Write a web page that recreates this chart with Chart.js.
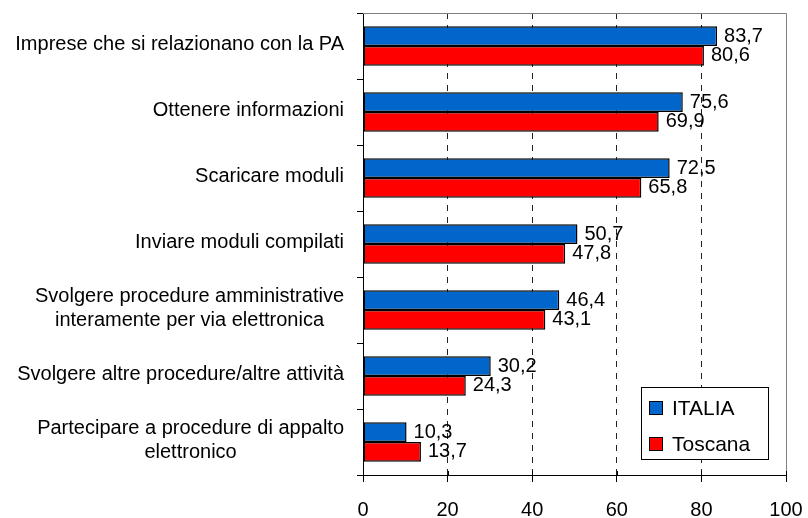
<!DOCTYPE html>
<html>
<head>
<meta charset="utf-8">
<script src="https://cdn.jsdelivr.net/npm/chart.js@4/dist/chart.umd.min.js"></script>
<style>
html,body{margin:0;padding:0;background:#fff;}
#wrap{width:808px;height:518px;}
</style>
</head>
<body>
<div id="wrap"><canvas id="c" width="808" height="518"></canvas></div>
<script>
const categories = [
  ["Imprese che si relazionano con la PA"],
  ["Ottenere informazioni"],
  ["Scaricare moduli"],
  ["Inviare moduli compilati"],
  ["Svolgere procedure amministrative", "interamente per via elettronica"],
  ["Svolgere altre procedure/altre attività"],
  ["Partecipare a procedure di appalto", "elettronico"]
];
const seriesNames = ["ITALIA", "Toscana"];
const italia = [83.7, 75.6, 72.5, 50.7, 46.4, 30.2, 10.3];
const toscana = [80.6, 69.9, 65.8, 47.8, 43.1, 24.3, 13.7];
const xTicks = [0, 20, 40, 60, 80, 100];

const FONT = "'Liberation Sans', Arial, sans-serif";
const BLUE = "#0066CC";
const RED = "#FF0000";

const labelsPlugin = {
  id: 'customLabels',
  afterDatasetsDraw(chart) {
    const ctx = chart.ctx;
    ctx.save();
    ctx.fillStyle = '#000';
    ctx.font = "20px " + FONT;
    ctx.textAlign = 'left';
    ctx.textBaseline = 'middle';
    chart.data.datasets.forEach((ds, di) => {
      const meta = chart.getDatasetMeta(di);
      meta.data.forEach((el, i) => {
        const v = ds.data[i];
        ctx.fillText(v.toFixed(1).replace('.', ','), el.x + 7, el.y);
      });
    });
    ctx.restore();
  },
  afterDraw(chart) {
    const ctx = chart.ctx;
    const ca = chart.chartArea;
    const ys = chart.scales.y;
    const xs = chart.scales.x;
    ctx.save();
    // frame top & right
    ctx.strokeStyle = '#808080';
    ctx.lineWidth = 1;
    ctx.beginPath();
    ctx.moveTo(ca.left, ca.top + 0.5);
    ctx.lineTo(ca.right + 0.5, ca.top + 0.5);
    ctx.lineTo(ca.right + 0.5, ca.bottom);
    ctx.stroke();
    // small inner part of x tick marks (crossing ticks)
    ctx.strokeStyle = '#000';
    ctx.beginPath();
    xTicks.forEach(v => {
      const x = Math.round(xs.getPixelForValue(v)) + 0.5;
      ctx.moveTo(x, ca.bottom - 4);
      ctx.lineTo(x, ca.bottom);
    });
    ctx.stroke();
    // x tick labels
    ctx.fillStyle = '#000';
    ctx.font = "20px " + FONT;
    ctx.textAlign = 'center';
    ctx.textBaseline = 'alphabetic';
    xTicks.forEach(v => {
      ctx.fillText(String(v), xs.getPixelForValue(v), ca.bottom + 41);
    });
    // category labels
    ctx.textBaseline = 'middle';
    chart.data.labels.forEach((lines, i) => {
      const yc = ys.getPixelForValue(i) - 2;
      let maxW = 0;
      lines.forEach(l => { maxW = Math.max(maxW, ctx.measureText(l).width); });
      const right = ca.left - 19;
      const cx = right - maxW / 2;
      lines.forEach((l, j) => {
        ctx.fillText(l, cx, yc + (j - (lines.length - 1) / 2) * 24);
      });
    });
    // legend
    const bx = 641, by = 387, bw = 127, bh = 72;
    ctx.fillStyle = '#fff';
    ctx.fillRect(bx, by, bw, bh);
    ctx.strokeStyle = '#000';
    ctx.lineWidth = 1;
    ctx.strokeRect(bx + 0.5, by + 0.5, bw, bh);
    ctx.font = "21px " + FONT;
    ctx.textAlign = 'left';
    chart.data.datasets.forEach((ds, di) => {
      const cy = by + 21 + di * 36;
      ctx.fillStyle = ds.backgroundColor;
      ctx.fillRect(bx + 8.5, cy - 6.5, 13, 13);
      ctx.strokeStyle = '#000';
      ctx.strokeRect(bx + 8.5, cy - 6.5, 13, 13);
      ctx.fillStyle = '#000';
      ctx.fillText(ds.label, bx + 31, cy + 1);
    });
    ctx.restore();
  }
};

new Chart(document.getElementById('c'), {
  type: 'bar',
  data: {
    labels: categories,
    datasets: [
      { label: seriesNames[0], data: italia, backgroundColor: BLUE, borderColor: '#000', borderWidth: 1.5, borderSkipped: false, categoryPercentage: 0.6, barPercentage: 1.0 },
      { label: seriesNames[1], data: toscana, backgroundColor: RED, borderColor: '#000', borderWidth: 1.5, borderSkipped: false, categoryPercentage: 0.6, barPercentage: 1.0 }
    ]
  },
  options: {
    indexAxis: 'y',
    responsive: false,
    animation: false,
    devicePixelRatio: 1,
    layout: { padding: { top: 13, right: 22, left: 0, bottom: 0 } },
    plugins: { legend: { display: false }, tooltip: { enabled: false } },
    scales: {
      x: {
        min: 0, max: 100,
        afterBuildTicks(s) { s.ticks = xTicks.map(v => ({ value: v })); },
        afterFit(s) { s.height = 43; },
        ticks: { display: false },
        grid: {
          color: (c) => (c.tick && (c.tick.value === 0 || c.tick.value === 100)) ? 'rgba(0,0,0,0)' : '#222',
          tickColor: '#000', tickLength: 7, lineWidth: 1, drawTicks: true
        },
        border: { color: '#000', width: 1, dash: [6, 6] }
      },
      y: {
        afterFit(s) { s.width = 363; },
        ticks: { display: false },
        grid: { drawOnChartArea: false, drawTicks: true, tickLength: 6, tickColor: '#000', offset: true },
        border: { color: '#000', width: 1 }
      }
    }
  },
  plugins: [labelsPlugin]
});
</script>
</body>
</html>
